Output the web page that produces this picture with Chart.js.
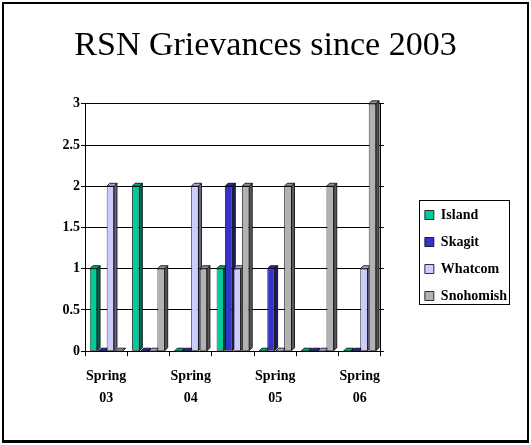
<!DOCTYPE html>
<html>
<head>
<meta charset="utf-8">
<script src="https://cdn.jsdelivr.net/npm/chart.js@4.4.0/dist/chart.umd.min.js"></script>
<style>
  html, body { margin: 0; padding: 0; background: #fff; }
  .frame {
    position: absolute; left: 2px; top: 2px; width: 523px; height: 436px;
    border: 2px solid #000; border-bottom-width: 3px;
  }
  .wrap { position: absolute; left: 0; top: 0; width: 531px; height: 445px; }
</style>
</head>
<body>
<div class="wrap"><canvas id="chart" width="531" height="445"></canvas></div>
<div class="frame"></div>
<script>
// data
const categories = ['Spring 03', 'Fall 03', 'Spring 04', 'Fall 04', 'Spring 05', 'Fall 05', 'Spring 06'];
const island    = [1, 2, 0, 1, 0, 0, 0];
const skagit    = [0, 0, 0, 2, 1, 0, 0];
const whatcom   = [2, 0, 2, 1, 0, 0, 1];
const snohomish = [0, 1, 1, 2, 2, 2, 3];
const yTicks    = [0, 0.5, 1, 1.5, 2, 2.5, 3];

const serif = "'Liberation Serif', 'Times New Roman', serif";
const DEPTH = 3;

// front / side / top colours for the fake 3D bars
const shades = {
  Island:    { front: '#00CC99', side: '#006A50', top: '#00A67C' },
  Skagit:    { front: '#3333CC', side: '#1A1A66', top: '#2828A0' },
  Whatcom:   { front: '#CCCCFF', side: '#666680', top: '#A6A6D0' },
  Snohomish: { front: '#B2B2B2', side: '#595959', top: '#8F8F8F' }
};

const bars3d = {
  id: 'bars3d',
  beforeDatasetsDraw(chart) {
    const ctx = chart.ctx;
    ctx.save();
    ctx.lineWidth = 0.8;
    ctx.strokeStyle = '#000';
    chart.data.datasets.forEach((ds, i) => {
      const meta = chart.getDatasetMeta(i);
      const c = shades[ds.label];
      meta.data.forEach(bar => {
        const r = bar.x + bar.width / 2;
        const l = bar.x - bar.width / 2;
        // side face
        ctx.beginPath();
        ctx.moveTo(r, bar.y);
        ctx.lineTo(r + DEPTH, bar.y - DEPTH);
        ctx.lineTo(r + DEPTH, bar.base - DEPTH);
        ctx.lineTo(r, bar.base);
        ctx.closePath();
        ctx.fillStyle = c.side;
        ctx.fill();
        ctx.stroke();
        // top face
        ctx.beginPath();
        ctx.moveTo(l, bar.y);
        ctx.lineTo(l + DEPTH, bar.y - DEPTH);
        ctx.lineTo(r + DEPTH, bar.y - DEPTH);
        ctx.lineTo(r, bar.y);
        ctx.closePath();
        ctx.fillStyle = c.top;
        ctx.fill();
        ctx.stroke();
      });
    });
    ctx.restore();
  }
};

// legend sits below the middle of the plot in the original
const legendShift = {
  id: 'legendShift',
  afterLayout(chart) {
    chart.legend.top += 41;
    chart.legend.bottom += 41;
    chart.legend.left -= 3;
    chart.legend.right -= 3;
  }
};

// box round the legend
const legendBox = {
  id: 'legendBox',
  afterDraw(chart) {
    const boxes = chart.legend.legendHitBoxes;
    if (!boxes || !boxes.length) return;
    let x0 = Infinity, y0 = Infinity, x1 = -Infinity, y1 = -Infinity;
    boxes.forEach(b => {
      x0 = Math.min(x0, b.left); y0 = Math.min(y0, b.top);
      x1 = Math.max(x1, b.left + b.width); y1 = Math.max(y1, b.top + b.height);
    });
    const ctx = chart.ctx;
    ctx.save();
    ctx.strokeStyle = '#000';
    ctx.lineWidth = 1;
    const L = Math.round(x0 - 6), T = Math.round(y0 - 8);
    ctx.strokeRect(L + 0.5, T + 0.5, Math.round(x1 + 2) - L, Math.round(y1 + 1) - T);
    ctx.restore();
  }
};

function mkSet(label, data) {
  return {
    label: label,
    data: data,
    backgroundColor: shades[label].front,
    borderColor: '#000',
    borderWidth: 0.8,
    borderSkipped: false,
    categoryPercentage: 0.8,
    barPercentage: 0.86
  };
}

new Chart(document.getElementById('chart'), {
  type: 'bar',
  data: {
    labels: categories,
    datasets: [
      mkSet('Island', island),
      mkSet('Skagit', skagit),
      mkSet('Whatcom', whatcom),
      mkSet('Snohomish', snohomish)
    ]
  },
  options: {
    responsive: false,
    animation: false,
    layout: { padding: { top: 10, left: 11, right: 11, bottom: 26 } },
    plugins: {
      title: {
        display: true,
        text: 'RSN Grievances since 2003',
        color: '#000',
        font: { family: serif, size: 34, weight: 'normal' },
        padding: { top: 16, bottom: 37 }
      },
      legend: {
        position: 'right',
        maxWidth: 140,
        labels: {
          color: '#000',
          font: { family: serif, size: 14, weight: 'bold' },
          boxWidth: 9,
          boxHeight: 9,
          padding: 13
        }
      },
      tooltip: { enabled: false }
    },
    scales: {
      x: {
        grid: { display: true, drawOnChartArea: false, offset: true, color: '#000', tickLength: 5 },
        border: { color: '#000' },
        ticks: {
          color: '#000',
          font: { family: serif, size: 14, weight: 'bold', lineHeight: 1.6 },
          maxRotation: 0,
          autoSkip: false,
          padding: 9,
          callback: function (v, i) {
            return i % 2 === 0 ? this.getLabelForValue(v).split(' ') : '';
          }
        }
      },
      y: {
        min: yTicks[0],
        max: yTicks[yTicks.length - 1],
        afterFit: s => { s.width = 74; },
        afterBuildTicks: s => { s.ticks = yTicks.map(v => ({ value: v })); },
        ticks: {
          color: '#000',
          padding: 1,
          font: { family: serif, size: 14, weight: 'bold' },
          callback: v => String(v)
        },
        grid: { color: '#000', tickLength: 4 },
        border: { color: '#000' }
      },
      y2: {
        position: 'right',
        min: yTicks[0],
        max: yTicks[yTicks.length - 1],
        afterFit: s => { s.width = 34; },
        afterBuildTicks: s => { s.ticks = yTicks.map(v => ({ value: v })); },
        ticks: { display: false },
        grid: { drawOnChartArea: false, color: '#000', tickLength: 3 },
        border: { color: '#000' }
      }
    }
  },
  plugins: [bars3d, legendShift, legendBox]
});
</script>
</body>
</html>
